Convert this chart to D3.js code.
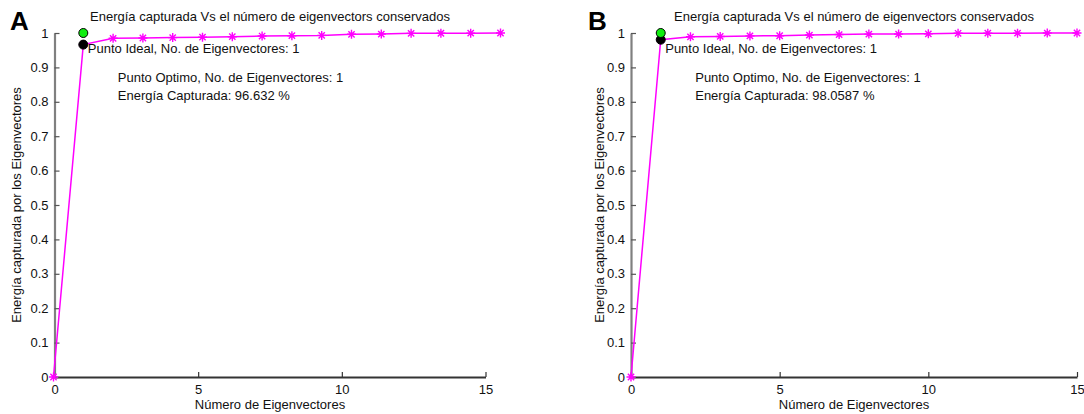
<!DOCTYPE html>
<html><head><meta charset="utf-8">
<script src="https://cdn.jsdelivr.net/npm/d3@7"></script>
<style>
html,body{margin:0;padding:0;background:#fff;}
text{font-family:"Liberation Sans",Arial,sans-serif;}
</style></head>
<body><svg id="c" width="1084" height="414"></svg>
<script>
const xValues = [0,1,2,3,4,5,6,7,8,9,10,11,12,13,14,15];
const energyA = [0,0.96632,0.9846,0.9855,0.9866,0.9880,0.9893,0.9912,0.9922,0.9930,0.9962,0.9970,0.9990,0.9993,0.9996,1.0];
const energyB = [0,0.980587,0.9890,0.9900,0.9915,0.9920,0.9940,0.9955,0.9968,0.9970,0.9975,0.9992,0.9994,0.9996,0.9998,1.0];
const xTicks = [0,5,10,15];
const yTicks = [0,0.1,0.2,0.3,0.4,0.5,0.6,0.7,0.8,0.9,1];
const titleText = "Energía capturada Vs el número de eigenvectors conservados";
const xLabelText = "Número de Eigenvectores";
const yLabelText = "Energía capturada por los Eigenvectores";
const idealPoint = [1, 1];
const panelLabels = ["A","B"];
const optimoX = [1, 1];
const capturedA = "96.632";
const capturedB = "98.0587";

const svg = d3.select("#c");
const plotTop = 33, plotBottom = 377;

const panels = [
  {label:panelLabels[0], data:energyA, axisL:54.5, axisR:485.5, dataL:53.5, dataR:500.5, labelX:10, ylabX:17, capt:capturedA, opt:optimoX[0]},
  {label:panelLabels[1], data:energyB, axisL:631, axisR:1077, dataL:631, dataR:1077, labelX:588, ylabX:600, capt:capturedB, opt:optimoX[1]}
];

panels.forEach(p => {
  const g = svg.append("g");
  const xAxisScale = d3.scaleLinear().domain([0,15]).range([p.axisL, p.axisR]);
  const xData = d3.scaleLinear().domain([0,15]).range([p.dataL, p.dataR]);
  const y = d3.scaleLinear().domain([0,1]).range([plotBottom, plotTop]);

  // x axis
  const xa = g.append("g").attr("transform", `translate(0,${plotBottom})`)
    .call(d3.axisBottom(xAxisScale).tickValues(xTicks).tickSizeInner(-5).tickSizeOuter(0).tickPadding(8).tickFormat(d3.format("d")));
  xa.select(".domain").attr("stroke","#333").attr("stroke-width",1.8);
  xa.selectAll(".tick line").attr("stroke","#333").attr("stroke-width",1.2);
  xa.selectAll(".tick text").attr("font-size",13).attr("fill","#111").attr("font-family","Liberation Sans, Arial, sans-serif");

  // y axis
  const ya = g.append("g").attr("transform", `translate(${p.axisL},0)`)
    .call(d3.axisLeft(y).tickValues(yTicks).tickSizeInner(-5).tickSizeOuter(0).tickPadding(6).tickFormat(d => d===0?"0":d===1?"1":d3.format(".1f")(d)));
  ya.select(".domain").attr("stroke","#808080").attr("stroke-width",2.2);
  ya.selectAll(".tick line").attr("stroke","#555").attr("stroke-width",1.2);
  ya.selectAll(".tick text").attr("font-size",13).attr("fill","#111").attr("font-family","Liberation Sans, Arial, sans-serif");

  // line
  const pts = xValues.map((x,i)=>[x,p.data[i]]);
  g.append("path").datum(pts)
    .attr("d", d3.line().x(d=>xData(d[0])).y(d=>y(d[1])))
    .attr("fill","none").attr("stroke","#ff00ff").attr("stroke-width",1.5);

  // star markers
  const s = 4.5;
  const star = `M0,${-s}L0,${s}M${-s},0L${s},0M${-s*0.7},${-s*0.7}L${s*0.7},${s*0.7}M${-s*0.7},${s*0.7}L${s*0.7},${-s*0.7}`;
  g.selectAll(".star").data(pts).enter().append("path")
    .attr("transform", d=>`translate(${xData(d[0])},${y(d[1])})`)
    .attr("d", star).attr("stroke","#ff00ff").attr("stroke-width",1.4).attr("fill","none");

  // optimo point (black)
  g.append("circle").attr("cx", xData(p.opt)).attr("cy", y(p.data[p.opt])).attr("r",4.5)
    .attr("fill","#000").attr("stroke","#000");
  // ideal point (green)
  g.append("circle").attr("cx", xData(idealPoint[0])).attr("cy", y(idealPoint[1])).attr("r",4.5)
    .attr("fill","#11ee11").attr("stroke","#000").attr("stroke-width",1);

  // texts
  const cx = (p.axisL + p.axisR)/2;
  g.append("text").attr("x", cx).attr("y", 21).attr("text-anchor","middle").attr("font-size",13).attr("fill","#111").text(titleText);
  g.append("text").attr("x", cx).attr("y", 409).attr("text-anchor","middle").attr("font-size",13).attr("fill","#111").text(xLabelText);
  g.append("text").attr("transform", `translate(${p.ylabX+4},${(plotTop+plotBottom)/2}) rotate(-90)`).attr("text-anchor","middle").attr("font-size",13).attr("fill","#111").text(yLabelText);
  g.append("text").attr("x", p.labelX).attr("y", 30).attr("font-size",26).attr("font-weight","bold").attr("fill","#000").text(p.label);

  const ax = xData(p.opt) + 4.5;
  g.append("text").attr("x", ax).attr("y", 53).attr("font-size",13).attr("fill","#111").text(`Punto Ideal, No. de Eigenvectores: ${idealPoint[0]}`);
  g.append("text").attr("x", ax + 30).attr("y", 82).attr("font-size",13).attr("fill","#111").text(`Punto Optimo, No. de Eigenvectores: ${p.opt}`);
  g.append("text").attr("x", ax + 30).attr("y", 100).attr("font-size",13).attr("fill","#111").text(`Energía Capturada: ${p.capt} %`);
});
</script></body></html>
